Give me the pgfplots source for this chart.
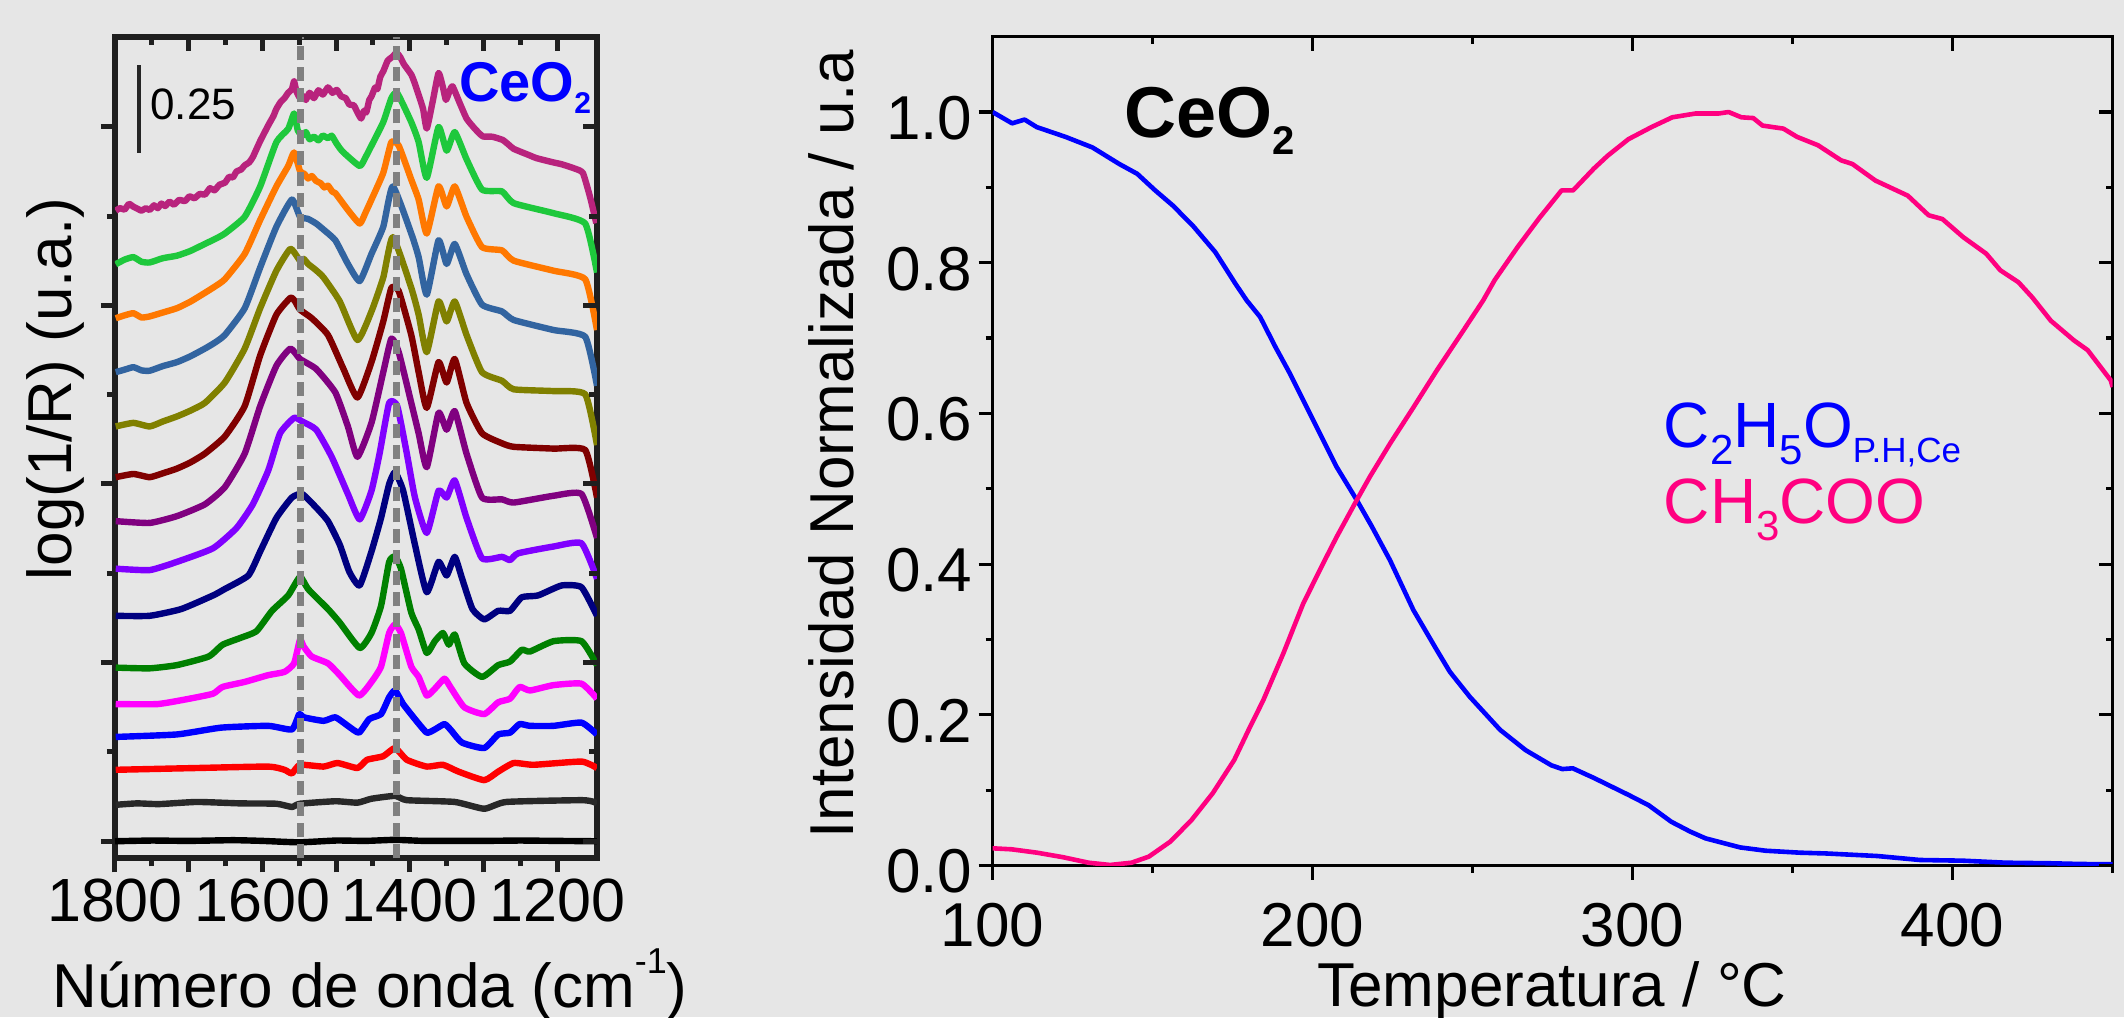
\documentclass[border=0pt]{standalone}
\usepackage{fontspec}
\setmainfont{Liberation Sans}
\usepackage{pgfplots}
\pgfplotsset{compat=1.18}
\definecolor{bg}{RGB}{230,230,230}
\definecolor{cA}{RGB}{184,35,125}
\definecolor{cB}{RGB}{30,200,60}
\definecolor{cC}{RGB}{255,120,0}
\definecolor{cD}{RGB}{50,100,160}
\definecolor{cE}{RGB}{128,128,0}
\definecolor{cF}{RGB}{128,0,0}
\definecolor{cG}{RGB}{128,0,128}
\definecolor{cH}{RGB}{128,0,255}
\definecolor{cI}{RGB}{0,0,128}
\definecolor{cJ}{RGB}{0,128,0}
\definecolor{cK}{RGB}{255,0,255}
\definecolor{cL}{RGB}{0,0,255}
\definecolor{cM}{RGB}{255,0,0}
\definecolor{cN}{RGB}{40,40,40}
\definecolor{cO}{RGB}{0,0,0}
\definecolor{pinkc}{RGB}{255,0,128}
\definecolor{bluec}{RGB}{0,0,255}
\definecolor{dashc}{RGB}{128,128,128}
\begin{document}
\begin{tikzpicture}
\fill[bg] (0,0) rectangle (1062pt,508.5pt);
\useasboundingbox (0,0) rectangle (1062pt,508.5pt);
% ---------------- left panel ----------------
\pgfplotsset{leftbase/.style={
  at={(57.5pt,79.3pt)}, anchor=south west, scale only axis,
  width=241pt, height=410.85pt,
  x dir=reverse, xmin=1146, xmax=1800, ymin=-0.048, ymax=2.252,
  xtick={1200,1300,1400,1500,1600,1700,1800},
  minor xtick={1250,1350,1450,1550,1650,1750},
  ytick={0,0.5,1,1.5,2}, minor ytick={0.25,0.75,1.25,1.75},
  major tick length=7pt, minor tick length=4pt,
  tick style={line width=2.5pt, color=black!88},
  axis line style={line width=3pt, color=black!88},
  /pgf/number format/assume math mode=true,
}}
\begin{axis}[leftbase,
  xtick pos=left, ytick pos=left, tick align=outside,
  xticklabels={1200,,1400,,1600,,1800}, yticklabels={},
  xticklabel style={font=\fontsize{30.5}{30.5}\selectfont, anchor=north, inner sep=0pt, yshift=-3pt},
  every axis plot/.append style={no marks, line width=3.2pt, line join=round, smooth, tension=0.3},
]
\addplot[cO] coordinates {(1800,0) (1750,0.002) (1700,0.001) (1640,0.003) (1600,0.001) (1550,-0.003) (1500,0.002) (1460,0.001) (1420,0.004) (1380,0.001) (1300,0.001) (1250,0.002) (1200,0.001) (1146,0)};
\addplot[cN] coordinates {(1799,0.102) (1770,0.106) (1740,0.104) (1689,0.110) (1630,0.106) (1581,0.105) (1560,0.096) (1549,0.105) (1501,0.112) (1471,0.108) (1452,0.119) (1420,0.127) (1404,0.115) (1339,0.110) (1299,0.091) (1269,0.110) (1167,0.115) (1150,0.110) (1146,0.105)};
\addplot[cM] coordinates {(1799,0.200) (1689,0.205) (1592,0.209) (1570,0.200) (1560,0.190) (1549,0.214) (1517,0.209) (1498,0.219) (1471,0.205) (1458,0.228) (1436,0.238) (1420,0.261) (1404,0.228) (1377,0.209) (1355,0.214) (1334,0.195) (1299,0.171) (1280,0.195) (1259,0.219) (1232,0.214) (1167,0.223) (1146,0.205)};
\addplot[cL] coordinates {(1799,0.292) (1716,0.299) (1656,0.318) (1592,0.323) (1560,0.313) (1550,0.356) (1544,0.347) (1517,0.337) (1501,0.347) (1484,0.323) (1469,0.304) (1455,0.342) (1439,0.356) (1428,0.403) (1420,0.422) (1409,0.384) (1393,0.342) (1377,0.304) (1366,0.313) (1353,0.328) (1345,0.313) (1329,0.276) (1299,0.261) (1280,0.299) (1264,0.304) (1251,0.328) (1237,0.323) (1205,0.323) (1167,0.332) (1146,0.299)};
\addplot[cK] coordinates {(1799,0.384) (1742,0.384) (1699,0.399) (1667,0.413) (1654,0.432) (1624,0.446) (1592,0.465) (1570,0.474) (1557,0.498) (1549,0.564) (1544,0.545) (1533,0.517) (1511,0.498) (1495,0.465) (1469,0.408) (1452,0.446) (1439,0.489) (1428,0.583) (1420,0.607) (1412,0.583) (1398,0.489) (1388,0.460) (1377,0.408) (1366,0.427) (1353,0.455) (1345,0.432) (1326,0.375) (1299,0.356) (1280,0.389) (1264,0.399) (1251,0.432) (1237,0.422) (1205,0.437) (1167,0.441) (1146,0.399)};
\addplot[cJ] coordinates {(1799,0.486) (1753,0.484) (1716,0.493) (1673,0.517) (1654,0.550) (1630,0.569) (1608,0.588) (1587,0.645) (1565,0.688) (1549,0.740) (1538,0.706) (1511,0.650) (1495,0.612) (1468,0.541) (1452,0.583) (1439,0.659) (1428,0.782) (1420,0.797) (1412,0.763) (1398,0.640) (1388,0.593) (1377,0.527) (1366,0.560) (1355,0.583) (1347,0.550) (1339,0.579) (1326,0.498) (1302,0.460) (1280,0.493) (1264,0.503) (1248,0.536) (1237,0.531) (1205,0.560) (1167,0.560) (1146,0.493)};
\addplot[cI] coordinates {(1799,0.631) (1753,0.631) (1710,0.650) (1667,0.688) (1651,0.706) (1619,0.744) (1603,0.811) (1581,0.905) (1560,0.962) (1546,0.972) (1527,0.934) (1511,0.896) (1495,0.830) (1482,0.754) (1468,0.716) (1452,0.811) (1439,0.905) (1428,1.000) (1420,1.033) (1409,0.981) (1393,0.830) (1377,0.697) (1361,0.782) (1350,0.744) (1339,0.796) (1329,0.735) (1315,0.650) (1299,0.621) (1280,0.645) (1264,0.645) (1248,0.683) (1226,0.688) (1194,0.716) (1167,0.711) (1146,0.631)};
\addplot[cH] coordinates {(1799,0.763) (1753,0.759) (1716,0.782) (1667,0.820) (1635,0.877) (1613,0.943) (1592,1.038) (1576,1.142) (1557,1.185) (1546,1.175) (1527,1.152) (1506,1.076) (1484,0.972) (1468,0.901) (1452,0.981) (1441,1.085) (1428,1.227) (1417,1.218) (1404,1.085) (1393,0.962) (1377,0.863) (1361,0.981) (1350,0.962) (1339,1.010) (1323,0.905) (1302,0.792) (1275,0.796) (1264,0.787) (1253,0.806) (1205,0.825) (1167,0.834) (1146,0.735)};
\addplot[cG] coordinates {(1799,0.896) (1753,0.891) (1716,0.910) (1678,0.943) (1651,0.991) (1624,1.085) (1603,1.218) (1581,1.331) (1562,1.379) (1549,1.350) (1527,1.322) (1501,1.256) (1484,1.161) (1471,1.076) (1452,1.171) (1436,1.313) (1425,1.407) (1415,1.369) (1398,1.227) (1388,1.142) (1377,1.047) (1361,1.199) (1350,1.152) (1339,1.204) (1323,1.085) (1302,0.962) (1275,0.957) (1259,0.948) (1205,0.967) (1167,0.972) (1146,0.849)};
\addplot[cF] coordinates {(1799,1.019) (1775,1.028) (1753,1.019) (1735,1.030) (1716,1.043) (1698,1.060) (1678,1.085) (1651,1.133) (1624,1.218) (1603,1.360) (1581,1.474) (1562,1.521) (1556,1.512) (1549,1.488) (1533,1.464) (1511,1.417) (1490,1.322) (1471,1.242) (1452,1.341) (1436,1.455) (1425,1.549) (1415,1.540) (1398,1.417) (1388,1.313) (1377,1.213) (1361,1.341) (1350,1.284) (1339,1.350) (1323,1.227) (1302,1.142) (1275,1.114) (1259,1.104) (1205,1.099) (1162,1.095) (1146,0.962)};
\addplot[cE] coordinates {(1799,1.161) (1775,1.171) (1753,1.161) (1735,1.175) (1716,1.189) (1698,1.205) (1678,1.227) (1651,1.284) (1624,1.379) (1603,1.492) (1581,1.597) (1562,1.658) (1549,1.625) (1544,1.630) (1538,1.616) (1527,1.598) (1517,1.578) (1495,1.511) (1471,1.403) (1452,1.483) (1436,1.578) (1423,1.691) (1398,1.549) (1388,1.474) (1377,1.369) (1361,1.511) (1350,1.455) (1339,1.511) (1323,1.417) (1302,1.313) (1275,1.289) (1259,1.265) (1205,1.260) (1162,1.251) (1146,1.109)};
\addplot[cD] coordinates {(1799,1.313) (1787,1.320) (1775,1.327) (1764,1.318) (1753,1.317) (1735,1.330) (1716,1.341) (1698,1.357) (1678,1.379) (1665,1.395) (1651,1.417) (1624,1.492) (1603,1.606) (1581,1.720) (1560,1.796) (1549,1.748) (1538,1.742) (1527,1.729) (1517,1.712) (1501,1.682) (1484,1.616) (1468,1.568) (1452,1.644) (1436,1.720) (1423,1.833) (1398,1.701) (1388,1.635) (1377,1.530) (1361,1.682) (1350,1.616) (1339,1.672) (1323,1.587) (1302,1.502) (1275,1.483) (1259,1.459) (1205,1.431) (1162,1.412) (1146,1.275)};
\addplot[cC] coordinates {(1799,1.464) (1787,1.472) (1775,1.478) (1764,1.466) (1753,1.469) (1735,1.480) (1716,1.492) (1698,1.510) (1678,1.535) (1665,1.552) (1651,1.573) (1624,1.644) (1603,1.739) (1581,1.833) (1565,1.890) (1557,1.928) (1549,1.876) (1543,1.868) (1538,1.855) (1533,1.862) (1527,1.848) (1521,1.842) (1516,1.830) (1511,1.835) (1505,1.818) (1501,1.814) (1484,1.767) (1468,1.729) (1460,1.760) (1452,1.796) (1436,1.871) (1425,1.957) (1415,1.947) (1398,1.852) (1388,1.796) (1377,1.701) (1361,1.833) (1350,1.777) (1339,1.833) (1323,1.748) (1302,1.663) (1275,1.654) (1259,1.625) (1205,1.597) (1162,1.573) (1146,1.431)};
\addplot[cB] coordinates {(1799,1.615) (1787,1.628) (1775,1.635) (1764,1.622) (1753,1.620) (1735,1.632) (1716,1.639) (1698,1.652) (1678,1.672) (1665,1.685) (1651,1.701) (1624,1.748) (1603,1.833) (1581,1.957) (1565,1.994) (1557,2.037) (1552,1.990) (1546,1.975) (1541,1.985) (1536,1.965) (1530,1.972) (1524,1.962) (1518,1.975) (1511,1.968) (1506,1.975) (1500,1.955) (1495,1.940) (1490,1.928) (1468,1.890) (1460,1.915) (1452,1.947) (1436,2.013) (1425,2.080) (1417,2.094) (1398,2.013) (1388,1.957) (1377,1.857) (1361,1.999) (1350,1.933) (1339,1.985) (1323,1.909) (1302,1.824) (1275,1.819) (1259,1.786) (1205,1.758) (1162,1.729) (1146,1.592)};
\addplot[cA] coordinates {(1799,1.765) (1793,1.772) (1787,1.768) (1781,1.784) (1775,1.776) (1769,1.770) (1764,1.765) (1758,1.772) (1753,1.767) (1747,1.780) (1742,1.772) (1737,1.785) (1732,1.778) (1726,1.790) (1720,1.782) (1713,1.795) (1705,1.792) (1699,1.805) (1692,1.800) (1685,1.812) (1678,1.810) (1671,1.828) (1665,1.822) (1658,1.838) (1651,1.843) (1645,1.860) (1640,1.858) (1635,1.875) (1629,1.880) (1624,1.892) (1618,1.900) (1613,1.915) (1603,1.960) (1592,2.004) (1585,2.030) (1581,2.050) (1575,2.070) (1570,2.080) (1565,2.095) (1560,2.105) (1557,2.127) (1554,2.100) (1549,2.080) (1544,2.085) (1541,2.075) (1536,2.095) (1530,2.080) (1524,2.102) (1518,2.090) (1511,2.110) (1505,2.095) (1499,2.103) (1493,2.085) (1487,2.080) (1482,2.062) (1476,2.060) (1471,2.040) (1466,2.023) (1462,2.045) (1459,2.040) (1455,2.075) (1452,2.085) (1447,2.110) (1444,2.105) (1440,2.140) (1436,2.155) (1430,2.185) (1424,2.195) (1418,2.207) (1413,2.195) (1408,2.175) (1398,2.146) (1393,2.120) (1388,2.089) (1382,2.050) (1377,1.995) (1369,2.070) (1361,2.150) (1355,2.110) (1351,2.075) (1346,2.100) (1342,2.113) (1333,2.070) (1323,2.023) (1312,1.995) (1301,1.973) (1288,1.972) (1274,1.963) (1266,1.950) (1259,1.938) (1240,1.922) (1228,1.912) (1205,1.900) (1194,1.895) (1175,1.882) (1165,1.870) (1155,1.800) (1147,1.730)};
\addplot[dashc, sharp plot, line width=3.6pt, dash pattern=on 7pt off 3.5pt, line cap=butt] coordinates {(1548,-0.048) (1548,2.252)};
\addplot[dashc, sharp plot, line width=3.6pt, dash pattern=on 7pt off 3.5pt, line cap=butt] coordinates {(1418,-0.048) (1418,2.252)};
\draw[line width=2pt, black!85] (axis cs:1767,1.927) -- (axis cs:1767,2.173);
\end{axis}
\begin{axis}[leftbase, xtick pos=right, ytick pos=right, tick align=inside,
  xticklabels={}, yticklabels={}, axis line style={draw=none}]
\end{axis}
% ---------------- right panel ----------------
\pgfplotsset{rightbase/.style={
  at={(496.3pt,75.75pt)}, anchor=south west, scale only axis,
  width=560pt, height=414.4pt,
  xmin=100, xmax=450, ymin=0, ymax=1.1,
  xtick={100,200,300,400}, minor xtick={150,250,350,450},
  ytick={0,0.2,0.4,0.6,0.8,1.0}, minor ytick={0.1,0.3,0.5,0.7,0.9},
  major tick length=7pt, minor tick length=3.5pt,
  tick style={line width=1.6pt, color=black},
  axis line style={line width=1.6pt, color=black},
  /pgf/number format/assume math mode=true,
}}
\begin{axis}[rightbase,
  xtick pos=left, ytick pos=left, tick align=outside,
  xticklabel style={font=\fontsize{31}{31}\selectfont, anchor=north, inner sep=0pt, yshift=-11.5pt},
  yticklabel style={font=\fontsize{31}{31}\selectfont, anchor=east, inner sep=0pt, xshift=-3pt, yshift=-3pt,
    /pgf/number format/fixed, /pgf/number format/fixed zerofill, /pgf/number format/precision=1},
  every axis plot/.append style={no marks, line width=2.3pt, line join=round},
]
\addplot[bluec] coordinates {(100,1.000) (106.1,0.985) (110,0.990) (113.8,0.980) (122.8,0.967) (131.2,0.953) (139.6,0.931) (145.2,0.918) (150.8,0.896) (156.3,0.876) (162.6,0.849) (169.6,0.814) (175.9,0.772) (179.4,0.750) (183.6,0.728) (188.4,0.688) (192.9,0.653) (200.2,0.591) (207.5,0.529) (213.8,0.485) (218.5,0.450) (224.2,0.405) (231.5,0.339) (238.8,0.286) (242.9,0.257) (249.1,0.224) (258.6,0.180) (266.6,0.153) (274.6,0.133) (278,0.128) (281.3,0.129) (288,0.116) (298.8,0.0935) (305,0.080) (312.1,0.058) (318,0.045) (322.8,0.036) (333.6,0.024) (341.6,0.0196) (352.3,0.017) (360.3,0.016) (376.4,0.0126) (389.8,0.0073) (403.2,0.0064) (416.6,0.0037) (430,0.003) (440,0.002) (450,0.0016)};
\addplot[pinkc] coordinates {(100,0.0228) (105.9,0.0215) (113.9,0.017) (122,0.011) (130,0.0037) (136.7,0.0007) (143.4,0.0037) (148.8,0.0117) (155.5,0.0316) (162.1,0.060) (168.8,0.096) (175.5,0.140) (180,0.180) (184.6,0.2195) (190.8,0.281) (197.1,0.348) (203.3,0.401) (207.5,0.436) (213.8,0.485) (217.9,0.516) (224.2,0.560) (231.5,0.608) (238.8,0.657) (247.1,0.710) (253.3,0.750) (256.9,0.777) (264.1,0.821) (270.6,0.858) (277.8,0.896) (281.4,0.896) (287.9,0.925) (292.2,0.942) (298.7,0.964) (305.9,0.980) (312.4,0.993) (319.6,0.998) (326.8,0.998) (330,1.000) (334,0.993) (337.7,0.992) (340.6,0.982) (347.1,0.978) (351.4,0.967) (357.9,0.956) (365.1,0.936) (368.7,0.931) (375.9,0.909) (386,0.889) (392.5,0.863) (396.8,0.858) (403.3,0.834) (410.5,0.812) (414.9,0.790) (420.6,0.774) (424.9,0.754) (430.7,0.723) (437.9,0.697) (442.2,0.684) (449.4,0.644) (450,0.635)};
\end{axis}
\begin{axis}[rightbase, xtick pos=right, ytick pos=right, tick align=inside,
  xticklabels={}, yticklabels={}, axis line style={draw=none}]
\end{axis}
% ---------------- texts ----------------
\node[rotate=90, anchor=base, inner sep=0pt, font=\fontsize{31}{31}\selectfont] at (35.5pt,314pt) {log(1/R) (u.a.)};
\node[anchor=base, inner sep=0pt, font=\fontsize{31}{31}\selectfont] at (185pt,5pt) {Número de onda (cm\raisebox{17pt}{\fontsize{18}{18}\selectfont -1})};
\node[rotate=90, anchor=base, inner sep=0pt, font=\fontsize{31}{31}\selectfont] at (426.5pt,286.5pt) {Intensidad Normalizada / u.a};
\node[anchor=base, inner sep=0pt, font=\fontsize{31}{31}\selectfont] at (776pt,5.5pt) {Temperatura / °C};
\node[anchor=base west, inner sep=0pt, font=\fontsize{36}{36}\selectfont\bfseries] at (562pt,439.5pt) {CeO\raisebox{-8.5pt}{\fontsize{20}{20}\selectfont 2}};
\node[anchor=base west, inner sep=0pt, text=bluec, font=\fontsize{28}{28}\selectfont\bfseries] at (229.4pt,457.6pt) {CeO\raisebox{-6pt}{\fontsize{15}{15}\selectfont 2}};
\node[anchor=base west, inner sep=0pt, font=\fontsize{22}{22}\selectfont] at (75pt,448.5pt) {0.25};
\node[anchor=base west, inner sep=0pt, text=bluec, font=\fontsize{32}{32}\selectfont] at (831.75pt,284.5pt) {C\raisebox{-8.5pt}{\fontsize{21}{21}\selectfont 2}H\raisebox{-8.5pt}{\fontsize{21}{21}\selectfont 5}O\raisebox{-7.5pt}{\fontsize{17.5}{17.5}\selectfont P.H,Ce}};
\node[anchor=base west, inner sep=0pt, text=pinkc, font=\fontsize{32}{32}\selectfont] at (831.75pt,246.5pt) {CH\raisebox{-8.5pt}{\fontsize{21}{21}\selectfont 3}COO};
\end{tikzpicture}
\end{document}
